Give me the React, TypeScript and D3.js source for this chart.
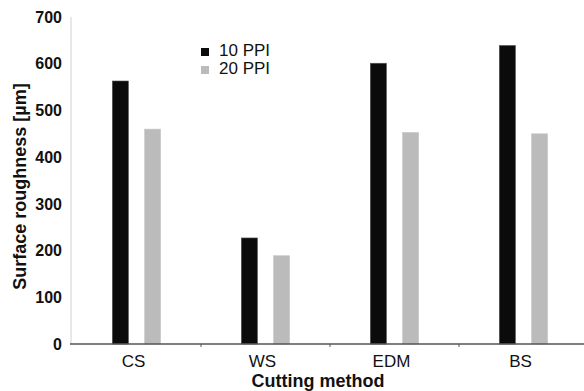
import React from "react";
import * as d3 from "d3";

const categories = ["CS", "WS", "EDM", "BS"];
const seriesNames = ["10 PPI", "20 PPI"];
const ppi10 = [563, 227, 601, 639];
const ppi20 = [460, 189, 453, 450];
const yTicks = [0, 100, 200, 300, 400, 500, 600, 700];
const colors = ["#0b0b0b", "#bbbbbb"];

const W = 584;
const H = 391;
const left = 72;
const right = 588;
const top = 17;
const bottom = 344;

export default function App() {
  const x = d3.scaleBand<string>().domain(categories).range([left, right]).paddingInner(0).paddingOuter(0);
  const xs = d3
    .scaleBand<string>()
    .domain(seriesNames)
    .range([0, x.bandwidth()])
    .paddingInner(0.5)
    .paddingOuter(1.25);
  const y = d3.scaleLinear().domain([0, 700]).range([bottom, top]);
  const series = [ppi10, ppi20];
  const font = "'Liberation Sans', Arial, Helvetica, sans-serif";

  return (
    <svg
      width={W}
      height={H}
      style={{ position: "absolute", left: 0, top: 0, background: "#fff" }}
      fontFamily={font}
    >
      <rect x={0} y={0} width={W} height={H} fill="#fff" />
      {/* y axis */}
      <line x1={71} x2={71} y1={y(700)} y2={bottom} stroke="#d0d0d0" strokeWidth={1} />
      {yTicks.map((t) => (
        <text
          key={t}
          x={62}
          y={y(t)}
          dy="0.36em"
          textAnchor="end"
          fontSize={16}
          fontWeight="bold"
          fill="#111"
        >
          {t}
        </text>
      ))}
      {/* bars */}
      {categories.map((c, i) =>
        series.map((s, j) => (
          <rect
            key={c + j}
            x={(x(c) as number) + (xs(seriesNames[j]) as number)}
            y={y(s[i])}
            width={xs.bandwidth()}
            height={bottom - y(s[i])}
            fill={colors[j]}
            stroke={j === 0 ? "#555" : "#c8c8c8"}
            strokeWidth={0.6}
          />
        ))
      )}
      {/* x axis */}
      <line x1={70} x2={W} y1={bottom} y2={bottom} stroke="#555" strokeWidth={1.5} />
      {categories.slice(1).map((c) => (
        <line
          key={"t" + c}
          x1={x(c) as number}
          x2={x(c) as number}
          y1={bottom}
          y2={bottom + 3}
          stroke="#555"
          strokeWidth={1}
        />
      ))}
      {categories.map((c) => (
        <text
          key={"l" + c}
          x={(x(c) as number) + x.bandwidth() / 2 - 3}
          y={367}
          textAnchor="middle"
          fontSize={17}
          fill="#111"
        >
          {c}
        </text>
      ))}
      <text
        x={(left + right) / 2 - 12}
        y={387}
        textAnchor="middle"
        fontSize={18}
        fontWeight="bold"
        fill="#111"
      >
        Cutting method
      </text>
      <text
        transform={`translate(20, ${(top + bottom) / 2 + 6}) rotate(-90)`}
        dy="0.36em"
        textAnchor="middle"
        fontSize={18}
        fontWeight="bold"
        fill="#111"
      >
        Surface roughness [µm]
      </text>
      {/* legend */}
      {seriesNames.map((n, j) => (
        <g key={n} transform={`translate(201, ${48 + j * 18})`}>
          <rect x={0} y={0} width={8} height={8} fill={colors[j]} />
          <text x={18} y={8} fontSize={17} fill="#111">
            {n}
          </text>
        </g>
      ))}
    </svg>
  );
}
